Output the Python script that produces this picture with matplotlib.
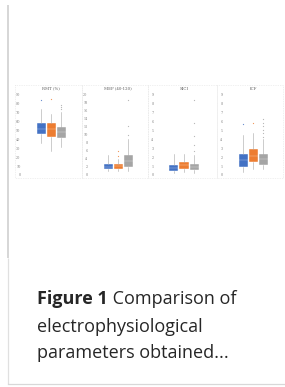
import matplotlib
matplotlib.use("Agg")
import matplotlib.pyplot as plt
from matplotlib.patches import Rectangle

W, H = 285, 387
DPI = 100

# ---------------- data ----------------
panel_titles = ["RMT (%)", "MEP (40-120)", "SICI", "ICF"]
panel_ymax = [90, 20, 9, 9]
panel_ystep = [10, 2, 1, 1]
group_colors = ["#4472C4", "#ED7D31", "#A5A5A5"]

# per panel, per group: [whislo, q1, med, q3, whishi]
rmt_stats = [[36, 46, 52, 58, 74], [27, 43, 52, 59, 69], [31, 42, 48, 53.5, 71]]
rmt_fliers = [[84], [86], [74, 77, 79]]
mep_stats = [[1.0, 1.5, 2.1, 2.7, 5.0], [1.0, 1.5, 2.2, 2.85, 4.0], [1.1, 1.9, 3.6, 5.0, 9.0]]
mep_fliers = [[], [4.8, 6.1], [10.1, 12.3, 18.7]]
sici_stats = [[0.2, 0.4, 0.8, 1.1, 2.4], [0.3, 0.65, 1.1, 1.5, 2.4], [0.2, 0.57, 0.9, 1.25, 2.3]]
sici_fliers = [[], [], [2.7, 3.4, 4.4, 5.9, 8.4]]
icf_stats = [[0.38, 0.95, 1.7, 2.4, 4.55], [0.68, 1.5, 2.1, 2.9, 4.75], [0.68, 1.14, 1.8, 2.4, 4.0]]
icf_fliers = [[5.7], [5.8], [4.3, 4.7, 5.1, 5.5, 5.9, 6.3]]

all_stats = [rmt_stats, mep_stats, sici_stats, icf_stats]
all_fliers = [rmt_fliers, mep_fliers, sici_fliers, icf_fliers]

caption_bold = "Figure 1"
caption_rest = " Comparison of"
caption_lines = ["electrophysiological", "parameters obtained..."]

# ---------------- figure ----------------
fig = plt.figure(figsize=(W / DPI, H / DPI), dpi=DPI)
fig.patch.set_facecolor("white")

bg = fig.add_axes([0, 0, 1, 1], zorder=0)
bg.set_xlim(0, W)
bg.set_ylim(H, 0)
bg.axis("off")

# card borders
bg.plot([7.5, 7.5], [5, 258], color="#d6d6d6", lw=1.4, solid_capstyle="butt")
bg.plot([7.5, 7.5], [258, 384], color="#e0e0e0", lw=0.9, solid_capstyle="butt")
bg.plot([7.5, 285], [384, 384], color="#d8d8d8", lw=0.9)

panel_lefts = [15, 82, 148, 217]
panel_rights = [82, 148, 217, 283]

for lft, rgt in zip(panel_lefts, panel_rights):
    bg.add_patch(Rectangle((lft, 85), rgt - lft, 93, fill=False,
                           edgecolor="#e2e2e2", lw=0.5, linestyle=(0, (1, 1.5))))


def px2fig(x, y):
    return x / W, 1 - y / H


for i in range(4):
    pl = panel_lefts[i]
    ax_l, ax_b = px2fig(pl + 10, 175)
    ax_w = 52 / W
    ax_h = 80 / H
    ax = fig.add_axes([ax_l, ax_b, ax_w, ax_h], zorder=2)
    ax.patch.set_alpha(0)
    stats = []
    for g in range(3):
        lo, q1, med, q3, hi = all_stats[i][g]
        stats.append(dict(whislo=lo, q1=q1, med=med, q3=q3, whishi=hi,
                          fliers=all_fliers[i][g], label=""))
    bp = ax.bxp(stats, positions=[1, 2, 3], widths=0.9, patch_artist=True,
                showfliers=True,
                boxprops=dict(lw=0.3, edgecolor="white"),
                medianprops=dict(color="white", lw=0.3, alpha=0.6),
                whiskerprops=dict(color="#a6a6a6", lw=0.4),
                capprops=dict(color="#a6a6a6", lw=0.4),
                flierprops=dict(marker="o", markersize=0.9, markeredgewidth=0))
    for g, b in enumerate(bp["boxes"]):
        b.set_facecolor(group_colors[g])
    for g, c in enumerate(bp["caps"]):
        c.set_xdata([c.get_xdata()[0] + 0.25, c.get_xdata()[1] - 0.25])
    for g, f in enumerate(bp["fliers"]):
        f.set_markerfacecolor(group_colors[g])
        f.set_alpha(0.8)
    ax.set_xlim(-0.6, 4.6)
    ax.set_ylim(0, panel_ymax[i])
    ticks = list(range(0, panel_ymax[i] + 1, panel_ystep[i]))
    ax.set_yticks(ticks)
    ax.set_yticklabels([str(t) for t in ticks], fontsize=2.4, color="#7f7f7f",
                       family="DejaVu Serif")
    ax.tick_params(axis="y", length=0, pad=3.2)
    ax.set_xticks([])
    for s in ax.spines.values():
        s.set_visible(False)
    ax.text(2, panel_ymax[i] + (89 - 95.5) * -panel_ymax[i] / 80, panel_titles[i],
            ha="center", va="center", fontsize=2.8, color="#595959",
            family="DejaVu Serif", clip_on=False)

# ---------------- caption ----------------
cap_font = dict(family="Open Sans", fontsize=13, color="#262626")
t1 = bg.text(37, 303.5, caption_bold, fontweight="bold", va="baseline", ha="left", **cap_font)
fig.canvas.draw()
r = fig.canvas.get_renderer()
bb = t1.get_window_extent(renderer=r)
x_end = bg.transData.inverted().transform((bb.x1, bb.y0))[0]
bg.text(x_end, 303.5, caption_rest, va="baseline", ha="left", **cap_font)
bg.text(37, 331.5, caption_lines[0], va="baseline", ha="left", **cap_font)
bg.text(37, 358.5, caption_lines[1], va="baseline", ha="left", **cap_font)

fig.savefig("out.png", dpi=DPI, facecolor="white")
